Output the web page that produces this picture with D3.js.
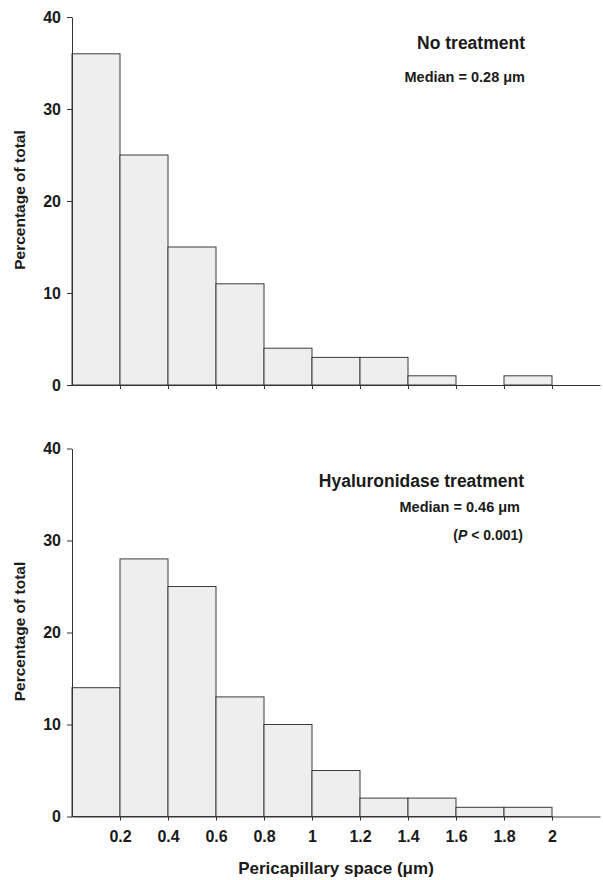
<!DOCTYPE html>
<html>
<head>
<meta charset="utf-8">
<script src="https://cdn.jsdelivr.net/npm/d3@7"></script>
<style>
  html, body { margin: 0; padding: 0; background: #fff; }
  svg { display: block; }
  text { font-family: "Liberation Sans", Arial, Helvetica, sans-serif; fill: #1a1a1a; }
</style>
</head>
<body>
<svg id="chart" width="603" height="880"></svg>
<script>
// ---- data ----
const binStarts = [0, 0.2, 0.4, 0.6, 0.8, 1.0, 1.2, 1.4, 1.6, 1.8, 2.0];
const binWidth = 0.2;
const noTreatment = [36, 25, 15, 11, 4, 3, 3, 1, 0, 1, 0];
const hyaluronidase = [14, 28, 25, 13, 10, 5, 2, 2, 1, 1, 0];
const yTicks = [0, 10, 20, 30, 40];
const xTicks = [0.2, 0.4, 0.6, 0.8, 1, 1.2, 1.4, 1.6, 1.8, 2];
const xTickLabels = ["0.2", "0.4", "0.6", "0.8", "1", "1.2", "1.4", "1.6", "1.8", "2"];
const panels = [
  { values: noTreatment, title: "No treatment", median: "Median = 0.28 \u03bcm", showXLabels: false },
  { values: hyaluronidase, title: "Hyaluronidase treatment", median: "Median = 0.46 \u03bcm", showXLabels: true }
];

const svg = d3.select("#chart");
const x = d3.scaleLinear().domain([0, 2.2]).range([72, 600]);
const panelTops = [17, 448.5];
const panelH = 368;

panels.forEach((p, i) => {
  const top = panelTops[i];
  const y = d3.scaleLinear().domain([0, 40]).range([top + panelH, top]);
  const g = svg.append("g");

  // bars
  g.selectAll("rect.bar")
    .data(p.values.map((v, j) => ({ x0: binStarts[j], v })).filter(d => d.v > 0))
    .enter().append("rect")
    .attr("class", "bar")
    .attr("x", d => x(d.x0))
    .attr("y", d => y(d.v))
    .attr("width", d => x(d.x0 + binWidth) - x(d.x0))
    .attr("height", d => y(0) - y(d.v))
    .attr("fill", "#eeeeee")
    .attr("stroke", "#3a3a3a")
    .attr("stroke-width", 1);

  // y axis
  const ya = g.append("g")
    .attr("transform", `translate(${x(0)},0)`)
    .call(d3.axisLeft(y).tickValues(yTicks).tickSize(5).tickSizeOuter(0).tickPadding(6));
  ya.select(".domain").attr("stroke", "#333");
  ya.selectAll(".tick line").attr("stroke", "#333");
  ya.selectAll(".tick text")
    .style("font-size", "16px").style("font-weight", "bold").attr("fill", "#1a1a1a");

  // x axis
  const xa = g.append("g")
    .attr("transform", `translate(0,${y(0)})`)
    .call(d3.axisBottom(x).tickValues(xTicks).tickSize(4).tickSizeOuter(0).tickPadding(10)
      .tickFormat((d, k) => p.showXLabels ? xTickLabels[k] : ""));
  xa.select(".domain").attr("stroke", "#333");
  xa.selectAll(".tick line").attr("stroke", "#333");
  xa.selectAll(".tick text")
    .style("font-size", "16px").style("font-weight", "bold").attr("fill", "#1a1a1a");

  // y axis title
  g.append("text")
    .attr("transform", `translate(25,${top + 183}) rotate(-90)`)
    .attr("text-anchor", "middle")
    .style("font-size", "15.5px").style("font-weight", "bold")
    .text("Percentage of total");

  // annotations
  g.append("text")
    .attr("x", i === 0 ? 525 : 524).attr("y", top + (i === 0 ? 32 : 38))
    .attr("text-anchor", "end")
    .style("font-size", "17.5px").style("font-weight", "bold")
    .text(p.title);
  g.append("text")
    .attr("x", i === 0 ? 525 : 520).attr("y", top + (i === 0 ? 65 : 63.5))
    .attr("text-anchor", "end")
    .style("font-size", "14.5px").style("font-weight", "bold")
    .text(p.median);
  if (i === 1) {
    const t = g.append("text")
      .attr("x", 523).attr("y", top + 91.5)
      .attr("text-anchor", "end")
      .style("font-size", "14px").style("font-weight", "bold");
    t.append("tspan").text("(");
    t.append("tspan").style("font-style", "italic").text("P");
    t.append("tspan").text(" < 0.001)");
  }
});

// x axis title
svg.append("text")
  .attr("x", 336).attr("y", 874)
  .attr("text-anchor", "middle")
  .style("font-size", "17px").style("font-weight", "bold")
  .text("Pericapillary space (\u03bcm)");
</script>
</body>
</html>
